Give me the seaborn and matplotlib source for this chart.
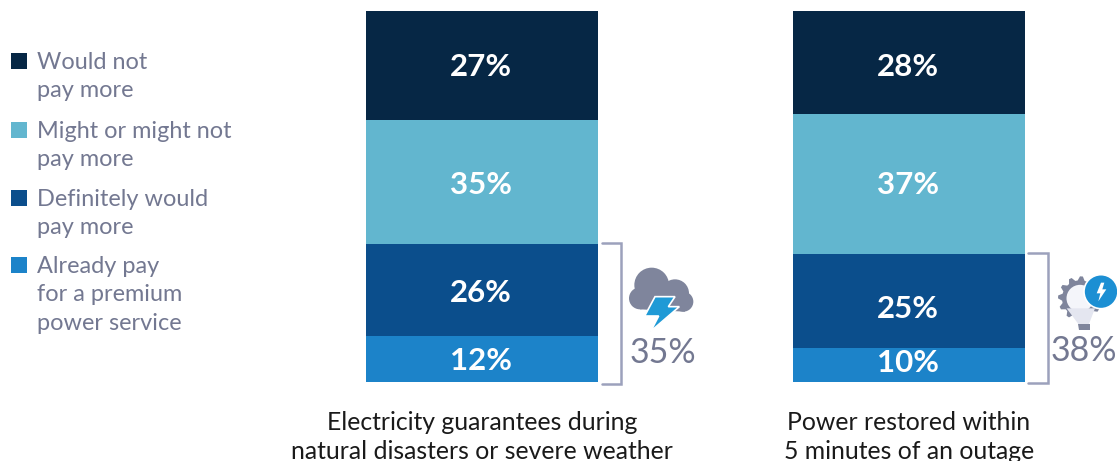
import numpy as np
import pandas as pd
import matplotlib
matplotlib.use("Agg")
import matplotlib.pyplot as plt
from matplotlib.patches import Circle, Polygon, Rectangle
import seaborn as sns

items = ["Electricity guarantees during\nnatural disasters or severe weather",
         "Power restored within\n5 minutes of an outage"]
# bottom to top, bar heights as measured on the picture
already = [12.4, 9.2]
definitely = [24.8, 25.3]
might = [33.4, 37.7]
wouldnot = [29.4, 27.8]
# the printed figures
already_lab = ["12%", "10%"]
definitely_lab = ["26%", "25%"]
might_lab = ["35%", "37%"]
wouldnot_lab = ["27%", "28%"]
totals = ["35%", "38%"]

legend_labels = ["Would not\npay more", "Might or might not\npay more",
                 "Definitely would\npay more", "Already pay\nfor a premium\npower service"]
colors = ["#062745", "#62b6cf", "#0b4e8c", "#1c83c9"]
GREY = "#737891"
BRACKET = "#9ca1bc"
ICON = "#7f859c"
FONT = "Lato"

sns.set_style("white")
plt.rcParams["font.family"] = FONT

fig = plt.figure(figsize=(11.17, 4.61), dpi=100)
ax = fig.add_axes([0, 79 / 461, 1, 371 / 461])

# stacked bars
layers = [(already, colors[3]), (definitely, colors[2]), (might, colors[1]), (wouldnot, colors[0])]
bottom = np.zeros(2)
for vals, col in layers:
    df = pd.DataFrame({"item": items, "share": vals})
    sns.barplot(data=df, x="item", y="share", color=col, width=232 / 427, bottom=bottom,
                saturation=1, ax=ax, linewidth=0, order=items)
    bottom = bottom + np.array(vals)

ax.set_xlim(-482 / 427, (1117 - 482) / 427)
ax.set_ylim(0, 100)
ax.set_xlabel("")
ax.set_ylabel("")
ax.set_yticks([])
ax.tick_params(axis="x", length=0, pad=21, labelsize=17.8, labelcolor="#1a1a1a")
for t in ax.get_xticklabels():
    t.set_linespacing(1.3)
sns.despine(ax=ax, left=True, bottom=True)

# overlay in pixels for legend, brackets and icons
ov = fig.add_axes([0, 0, 1, 1])
ov.set_xlim(0, 1117)
ov.set_ylim(461, 0)
ov.axis("off")
ov.patch.set_alpha(0)

# bar figures are not centred exactly in the original, so place them by pixel
label_rows = [(wouldnot_lab, [65, 65]), (might_lab, [182, 182]),
              (definitely_lab, [290, 306]), (already_lab, [358, 360])]
for labs, ys in label_rows:
    for lab, x, y in zip(labs, [481, 908], ys):
        ov.text(x, y, lab, color="white", fontsize=22.5, fontweight="bold", ha="center", va="center_baseline")

legend_y = [53, 122, 190, 257]
for lab, col, y in zip(legend_labels, colors, legend_y):
    ov.add_patch(Rectangle((11, y), 16, 16, color=col, lw=0))
    ov.text(37, y - 1, lab, color=GREY, fontsize=16.9, va="top", ha="left", linespacing=1.44)

# brackets
for x0, x1, y0, y1 in [(602, 621, 243, 384), (1028, 1048, 253, 383)]:
    ov.plot([x0, x1, x1, x0], [y0, y0, y1, y1], color=BRACKET, lw=1.8, solid_joinstyle="miter")

ov.text(662.5, 350, totals[0], color=GREY, fontsize=24.5, ha="center", va="center_baseline")
ov.text(1084, 348, totals[1], color=GREY, fontsize=24.5, ha="center", va="center_baseline")


def zoomed(ox, oy, pts):
    return [(ox + a / 3, oy + b / 3) for a, b in pts]


# storm cloud
ox, oy = 590, 230
for cx, cy, r in [(185, 165, 52), (255, 190, 42), (150, 205, 33), (280, 215, 30), (215, 215, 30)]:
    (px, py), = zoomed(ox, oy, [(cx, cy)])
    ov.add_patch(Circle((px, py), r / 3, color=ICON, lw=0))
ov.add_patch(Polygon(zoomed(ox, oy, [(150, 205), (285, 205), (285, 245), (150, 238)]), color=ICON, lw=0))
bolt = [(195, 200), (255, 200), (235, 230), (268, 230), (182, 304), (206, 258), (164, 258)]
ov.add_patch(Polygon(zoomed(ox, oy, bolt), fc="#1f9ad6", ec="white", lw=1.2, joinstyle="miter"))

# lightbulb with gear
ox, oy = 1015, 240
(gx, gy), = zoomed(ox, oy, [(195, 175)])
ang = np.linspace(0, 2 * np.pi, 48, endpoint=False)
rad = np.where(np.arange(48) % 4 < 2, 22, 18)
ov.add_patch(Polygon(np.c_[gx + rad * np.cos(ang), gy + rad * np.sin(ang)], color=ICON, lw=0))
ov.add_patch(Circle((gx, gy), 13.5, color="#f4f5fa", lw=0))
ov.add_patch(Polygon(zoomed(ox, oy, [(155, 205), (240, 205), (222, 252), (190, 252)]), color="#e4e6f0", lw=0))
ov.add_patch(Polygon(zoomed(ox, oy, [(190, 252), (224, 252), (224, 270), (192, 270)]), color=ICON, lw=0))
(cx, cy), = zoomed(ox, oy, [(258, 155)])
ov.add_patch(Circle((cx, cy), 17, fc="#1c8fd3", ec="white", lw=1.2))
small = [(258, 128), (245, 160), (256, 160), (250, 184), (274, 148), (262, 148), (268, 128)]
ov.add_patch(Polygon(zoomed(ox, oy, small), color="white", lw=0))

fig.savefig("out.png", dpi=100)
